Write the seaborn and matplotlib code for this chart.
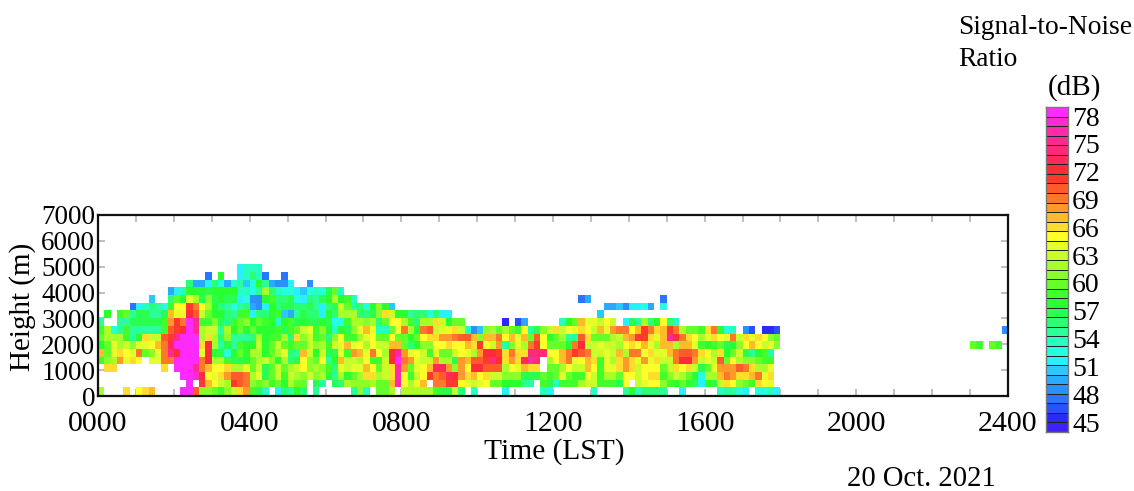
import numpy as np
import matplotlib
matplotlib.use('Agg')
import matplotlib.pyplot as plt
from matplotlib.colors import ListedColormap
import seaborn as sns

_ = np.nan

# SNR (dB) per 10 min column, one list per range gate
# each gate is split in three stretches: 0000-0610, 0610-1230, 1230-1800
gate_00 = ([62,_,_,_,66,_,65,66,67,_,_,_,_,78,78,70,61,61,60,59,61,63,66,68,59,57,54,_,52,56,55,58,56,_,55,_,_]
           + [_,_,_,55,61,54,_,60,60,62,_,62,62,62,62,62,59,57,57,63,56,_,54,_,_,_,_,52,_,_,_,_,_,54,52,_,_,_]
           + [_,_,_,54,_,_,_,_,55,58,54,56,56,56,55,_,_,52,_,_,_,_,_,54,55,55,53,52,_,53,53,54,52])
gate_01 = ([_,_,_,_,_,_,_,_,_,_,_,_,_,_,78,_,71,67,65,63,62,71,70,69,61,60,61,59,60,58,62,60,60,_,57,55,_]
           + [57,56,62,61,61,61,62,60,60,67,76,65,62,64,67,_,69,69,71,71,65,64,63,64,65,60,60,58,58,58,55,55,_,59,57,54,59,59]
           + [59,62,63,63,59,59,59,57,65,_,63,64,65,65,61,59,58,60,58,57,52,58,57,63,66,65,61,60,59,66,65,64,_])
gate_02 = ([_,_,_,_,_,_,_,_,_,_,_,_,_,78,78,77,72,65,64,66,68,70,70,69,62,64,57,60,63,59,63,62,61,63,61,62,58]
           + [55,62,58,60,62,66,66,62,63,66,76,65,59,63,65,71,69,70,73,72,68,66,67,65,66,63,63,61,61,61,57,57,57,60,59,60,64,60]
           + [59,59,65,63,59,62,62,60,65,65,63,65,66,66,59,61,63,62,60,58,53,62,62,67,69,68,66,66,67,69,64,66,_])
gate_03 = ([_,66,66,_,_,_,_,_,_,_,66,_,78,78,78,75,69,67,65,65,66,62,62,64,60,63,57,60,63,60,62,63,65,61,62,61,59]
           + [56,64,63,64,64,67,65,60,63,66,76,68,60,64,65,67,73,73,68,61,68,65,72,72,70,70,70,62,65,64,67,66,66,_,60,60,62,65]
           + [63,63,67,65,59,64,64,66,68,66,63,65,65,65,60,63,66,65,66,63,57,60,64,68,68,68,70,69,66,62,62,64,_])
gate_04 = ([59,61,62,68,64,66,65,_,64,64,69,69,78,78,78,78,69,72,62,62,59,57,57,58,60,62,63,61,58,62,56,57,65,61,60,65,55]
           + [58,67,63,63,62,65,59,59,63,72,78,69,68,64,63,63,68,62,62,57,68,67,70,70,71,74,72,66,68,66,73,76,74,_,62,65,67,69]
           + [64,65,67,66,59,64,62,66,68,66,64,68,64,66,63,63,69,72,72,68,63,64,63,70,60,65,62,61,61,60,59,59,_])
gate_05 = ([67,60,64,66,65,64,69,60,61,64,69,75,72,78,78,78,64,72,58,57,53,58,60,58,62,62,58,60,62,64,56,55,67,63,58,63,57]
           + [57,64,59,68,67,64,69,65,62,72,76,68,64,65,63,59,64,60,60,63,65,64,62,68,72,72,71,66,69,66,66,74,74,74,65,65,67,69]
           + [71,70,69,63,63,64,63,67,62,69,69,65,66,64,64,67,69,70,70,69,66,65,62,66,58,60,63,57,55,58,59,55,_])
gate_06 = ([58,60,64,62,63,61,64,64,65,67,69,73,78,78,78,78,66,72,62,55,57,55,59,58,58,63,58,60,63,60,59,60,60,63,61,62,59]
           + [63,64,67,64,65,62,65,63,63,67,67,60,56,58,61,61,65,65,66,65,65,67,66,71,65,63,68,55,61,64,62,69,71,65,60,60,60,58]
           + [69,72,63,63,64,63,63,62,65,66,65,67,64,62,67,67,62,67,67,64,59,58,59,60,57,58,61,65,67,65,63,64,61])
gate_07 = ([60,62,62,62,59,55,58,66,63,63,70,71,75,78,78,78,62,66,62,56,61,55,55,55,56,62,58,59,59,62,56,66,61,63,59,60,56]
           + [61,65,59,59,62,64,65,60,60,65,60,60,58,60,65,66,66,68,68,69,70,70,67,61,67,67,69,65,67,64,67,60,70,65,58,60,62,55]
           + [55,70,66,60,60,60,62,63,67,68,71,71,66,64,67,75,72,69,66,65,62,64,66,65,64,69,63,66,64,66,65,61,60])
gate_08 = ([59,62,53,55,59,55,55,55,55,55,59,70,71,72,78,75,62,63,63,55,62,58,60,58,60,58,58,58,59,57,59,60,63,64,59,61,58]
           + [54,58,57,61,64,67,64,54,54,60,65,69,62,58,69,70,63,64,64,66,63,54,49,51,61,62,60,62,60,59,65,55,57,61,63,66,63,65]
           + [64,66,65,63,67,64,68,69,69,65,67,71,69,66,67,71,69,62,60,60,59,66,69,58,53,54,_,49,47,_,46,46,47])
gate_09 = ([55,_,_,55,55,57,57,57,57,57,59,68,71,69,78,75,59,59,61,57,56,59,60,61,58,60,59,58,54,58,59,57,58,57,57,58,57]
           + [53,53,59,62,62,61,62,56,60,65,65,62,59,56,62,62,66,63,58,60,60,_,_,_,_,_,_,46,_,47,50,_,_,_,_,_,54,58]
           + [60,67,64,64,63,65,63,_,52,57,55,62,56,58,65,56,54])
gate_10 = ([_,58,_,59,60,55,57,57,55,55,57,67,64,64,72,70,63,60,58,58,56,55,59,59,52,56,56,58,59,51,50,55,57,56,56,52,58]
           + [56,62,62,62,56,56,57,61,66,63,58,58,55,56,56,53,56,52,52] + [_] * 19
           + [_,_,_,_,51])
gate_11 = ([_,_,_,_,_,48,52,54,56,55,53,59,65,65,71,69,65,62,58,56,55,53,55,56,50,49,52,58,56,57,57,56,56,57,55,52,56]
           + [57,63,60,55,56,53,58,61,58,51] + [_] * 28
           + [_,_,_,_,_,50,50,51,49,52,52,53,50,_,53])
gate_12 = ([_,_,_,_,_,_,_,_,51,_,_,56,60,58,64,62,57,61,57,58,57,57,52,53,49,49,58,59,56,56,57,53,52,56,55,57,58]
           + [62,58,59,54] + [_] * 34
           + [_,48,50] + [_] * 11 + [48])
gate_13 = ([_,_,_,_,_,_,_,_,_,_,_,50,52,54,58,58,58,57,58,58,58,58,54,54,53,55,62,56,54,53,53,52,51,53,54,53,57]
           + [60,54])
gate_14 = [_,_,_,_,_,_,_,_,_,_,_,_,_,_,56,50,50,52,56,53,50,54,55,51,53,58,55,50,49,49,52,_,_,49]
gate_15 = [_,_,_,_,_,_,_,_,_,_,_,_,_,_,_,_,_,48,_,58,_,_,52,54,56,54,48,_,_,48]
gate_16 = [_,_,_,_,_,_,_,_,_,_,_,_,_,_,_,_,_,_,_,_,_,_,52,54,54,54]

# the few echoes late in the evening (2300-2400)
late_06 = [_] * 30 + [60,59,_,60,59]
late_08 = [_] * 35 + [49]

snr_levels = list(range(45, 79))
snr_colors = ['#4020ff', '#2a2aff', '#2a50ff', '#2a75ff', '#2a90ff', '#2aaaff', '#2ac8ff',
              '#28f0ff', '#25ffe0', '#25ffc0', '#2aff9a', '#2aff75', '#2aff50', '#2aff30',
              '#40ff2a', '#65ff2a', '#8aff2a', '#a8ff2a', '#c8ff2a', '#e5ff2a', '#ffff2a',
              '#ffdd2a', '#ffbb2a', '#ff9a2a', '#ff782a', '#ff5a2a', '#ff3a2a', '#ff2a3a',
              '#ff2a5a', '#ff2a78', '#ff2a8f', '#ff2aa8', '#ff2ad0', '#ff2aff']
cbar_labels = [78, 75, 72, 69, 66, 63, 60, 57, 54, 51, 48, 45]

hour_labels = ['0000', '0400', '0800', '1200', '1600', '2000', '2400']
height_labels = [0, 1000, 2000, 3000, 4000, 5000, 6000, 7000]

N_COLS = 144
GATE_STEP = 297.0   # m
GATE_BASE = 40.0    # m


def pad(row):
    return list(row) + [np.nan] * (N_COLS - len(row))


gates = [gate_00, gate_01, gate_02, gate_03, gate_04, gate_05, gate_06, gate_07, gate_08,
         gate_09, gate_10, gate_11, gate_12, gate_13, gate_14, gate_15, gate_16]
gates[6] = gate_06 + late_06
gates[8] = gate_08 + late_08
snr_grid = np.array([pad(g) for g in gates], dtype=float)

sns.set_style('white')
plt.rcParams['font.family'] = ['Liberation Serif', 'DejaVu Serif']
plt.rcParams['text.color'] = 'black'

W, H = 1134, 491
fig = plt.figure(figsize=(W / 100, H / 100), dpi=100)
ax = fig.add_axes([98 / W, (H - 396) / H, 910 / W, 181 / H])
cmap = ListedColormap(snr_colors)

sns.heatmap(snr_grid, ax=ax, cmap=cmap, vmin=44.5, vmax=78.5, cbar=False,
            xticklabels=False, yticklabels=False)

# gate index to metres
ax.set_xlim(0, N_COLS)
ax.set_ylim(-GATE_BASE / GATE_STEP, (7000 - GATE_BASE) / GATE_STEP)

ax.set_xticks(np.arange(0, N_COLS + 1, 6))
xlabels = [''] * 25
for i, lab in enumerate(hour_labels):
    xlabels[i * 4] = lab
ax.set_xticklabels(xlabels, fontsize=21.5)
ax.set_yticks([(h - GATE_BASE) / GATE_STEP for h in height_labels])
ax.set_yticklabels(height_labels, fontsize=19.5)
ax.tick_params(axis='both', direction='in', length=5, width=1.5, color='#c0c0c0',
               top=True, right=True, bottom=True, left=True, labelcolor='black')
ax.tick_params(axis='x', pad=10.5)
ax.tick_params(axis='y', pad=2)
for s in ax.spines.values():
    s.set_visible(True)
    s.set_color('#111111')
    s.set_linewidth(1.6)

# colour bar
cax = fig.add_axes([1046 / W, (H - 432) / H, 22 / W, 325 / H])
sns.heatmap(np.array(snr_levels)[:, None], ax=cax, cmap=cmap, vmin=44.5, vmax=78.5, cbar=False,
            xticklabels=False, yticklabels=False, linewidths=0.7, linecolor='#222222')
cax.set_ylim(0, len(snr_levels))
cax.yaxis.tick_right()
cax.set_yticks([(432 - (422 - (v - 45) * 9.27)) / 9.56 for v in cbar_labels])
cax.set_yticklabels(cbar_labels, fontsize=20)
cax.tick_params(axis='y', length=0, pad=3, labelcolor='black')
for s in cax.spines.values():
    s.set_visible(True)
    s.set_color('#777777')
    s.set_linewidth(1.0)

fig.text(554 / W, (H - 452) / H, 'Time (LST)', fontsize=21.2, ha='center', va='center')
fig.text(23 / W, (H - 307) / H, 'Height (m)', fontsize=21, ha='center', va='center', rotation=90)
fig.text(958 / W, (H - 28) / H, 'Signal-to-Noise', fontsize=19.8, ha='left', va='center')
fig.text(958 / W, (H - 60) / H, 'Ratio', fontsize=19.8, ha='left', va='center')
fig.text(1074 / W, (H - 88) / H, '(dB)', fontsize=21, ha='center', va='center')
fig.text(921 / W, (H - 478.5) / H, '20 Oct. 2021', fontsize=20.6, ha='center', va='center')

fig.savefig('out.png', dpi=100)
plt.close(fig)
print('saved out.png')
